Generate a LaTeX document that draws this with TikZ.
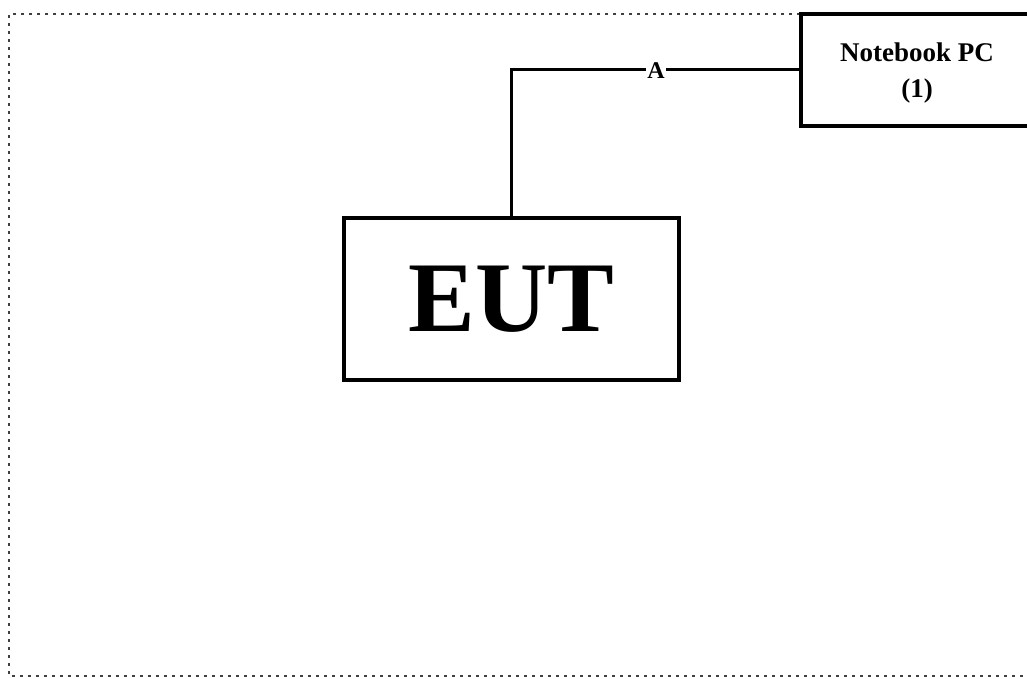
\documentclass[tikz,border=0pt]{standalone}
\usepackage{fontspec}
\setmainfont{Liberation Serif}
\begin{document}
\begin{tikzpicture}[x=1pt,y=-1pt,
  box/.style={draw=black,line width=3.4pt,fill=white,inner sep=0pt},
  wire/.style={draw=black,line width=3pt},
  frame/.style={draw=black!75,line width=2.7pt,dash pattern=on 2.7pt off 5.3pt}]
\clip (0,0) rectangle (1027,678);
\fill[white] (0,0) rectangle (1027,678);
\draw[frame] (1040,14) -- (9,14) -- (9,676) -- (1040,676);
\node[box,minimum width=335pt,minimum height=162pt] (eut) at (511.5,299)
  {\fontsize{100}{100}\selectfont\bfseries EUT};
\node[box,minimum width=232pt,minimum height=112pt] (pc) at (917,70) {};
\node[align=center,inner sep=0pt,font=\fontsize{27}{36}\selectfont\bfseries] (pctxt) at (917,73)
  {Notebook PC\\(1)};
\coordinate (bend) at (511.5,69);
\draw[wire] (eut.north) -- (bend) -- (pc.west |- bend);
\node[fill=white,inner sep=1pt,font=\fontsize{24}{24}\selectfont\bfseries] (lbl) at (656,71) {A};
\end{tikzpicture}
\end{document}
